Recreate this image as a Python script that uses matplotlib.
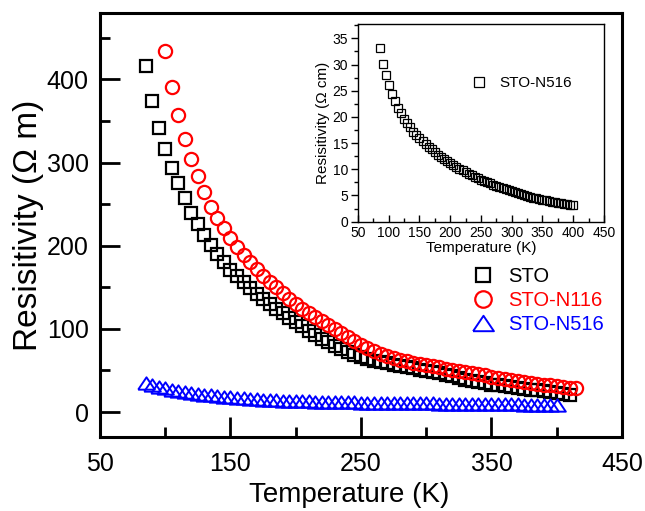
import matplotlib
matplotlib.use('Agg')
import matplotlib.pyplot as plt
from matplotlib.ticker import MultipleLocator, FixedLocator

plt.rcParams['font.family'] = ['Liberation Sans', 'DejaVu Sans']

# main panel data (resistivity in Ohm m)
temp_sto = [85, 90, 95, 100, 105, 110, 115, 120, 125, 130, 135, 140, 145, 150, 155, 160,
            165, 170, 175, 180, 185, 190, 195, 200, 205, 210, 215, 220, 225, 230, 235, 240,
            245, 250, 255, 260, 265, 270, 275, 280, 285, 290, 295, 300, 305, 310, 315, 320,
            325, 330, 335, 340, 345, 350, 355, 360, 365, 370, 375, 380, 385, 390, 395, 400,
            405, 410]
rho_sto = [416, 374, 342, 317, 294, 275, 257, 240, 226, 213, 201, 190, 180, 171, 164, 156,
           149, 142, 136, 130, 124, 119, 113, 108, 103, 98, 93, 88, 84, 80, 76, 72,
           69, 66, 64, 62, 60, 58.5, 57, 55.5, 54, 52.5, 51, 49.5, 48, 46.5, 45, 43,
           41, 39, 37.5, 36, 34.5, 33, 32, 31, 30, 29, 28, 27, 26, 25, 24, 23,
           22, 20.5]

temp_n116 = [100, 105, 110, 115, 120, 125, 130, 135, 140, 145, 150, 155, 160, 165, 170, 175,
             180, 185, 190, 195, 200, 205, 210, 215, 220, 225, 230, 235, 240, 245, 250, 255,
             260, 265, 270, 275, 280, 285, 290, 295, 300, 305, 310, 315, 320, 325, 330, 335,
             340, 345, 350, 355, 360, 365, 370, 375, 380, 385, 390, 395, 400, 405, 410, 415]
rho_n116 = [434, 391, 357, 329, 304, 284, 265, 247, 233, 221, 209, 199, 189, 180, 172, 164,
            157, 150, 143, 136, 130, 124, 119, 114, 110, 105, 100, 95, 90, 85, 81, 77,
            73, 70, 67, 65, 63, 61, 59.5, 58, 56.5, 55, 54, 52, 50.5, 49, 48, 47,
            45.5, 44, 42.5, 41, 40, 39, 37.5, 36.5, 35.5, 34, 33, 32, 31, 30, 29.5, 29]

temp_n516 = [85, 90, 95, 100, 105, 110, 115, 120, 125, 130, 135, 140, 145, 150, 155, 160,
             165, 170, 175, 180, 185, 190, 195, 200, 205, 210, 215, 220, 225, 230, 235, 240,
             245, 250, 255, 260, 265, 270, 275, 280, 285, 290, 295, 300, 305, 310, 315, 320,
             325, 330, 335, 340, 345, 350, 355, 360, 365, 370, 375, 380, 385, 390, 395, 400]
rho_n516 = [35, 32, 30, 28.5, 27, 25.5, 24, 23, 22, 21, 20, 19, 18.3, 17.6, 17, 16.5,
            16, 15.5, 15, 14.6, 14.2, 13.8, 13.5, 13.2, 13, 12.8, 12.6, 12.4, 12.2, 12, 11.8, 11.7,
            11.6, 11.5, 11.4, 11.3, 11.2, 11.1, 11, 10.9, 10.8, 10.7, 10.6, 10.5, 10.4, 10.3, 10.2, 10.1,
            10, 9.9, 9.8, 9.7, 9.6, 9.5, 9.4, 9.3, 9.2, 9.1, 9.0, 8.9, 8.8, 8.6, 8.5, 8.4]

# inset data (resistivity in Ohm cm)
rho_n516_cm = [33.2, 30.2, 28.0, 26.1, 24.3, 23.0, 21.7, 20.7, 19.7, 18.8, 18.0, 17.2, 16.6, 16.0, 15.4, 14.8,
               14.3, 13.8, 13.3, 12.8, 12.4, 12.0, 11.6, 11.2, 10.8, 10.5, 10.1, 9.8, 9.5, 9.2, 8.9, 8.6,
               8.3, 8.0, 7.8, 7.5, 7.3, 7.0, 6.8, 6.6, 6.4, 6.2, 6.0, 5.8, 5.6, 5.4, 5.3, 5.1,
               4.9, 4.8, 4.6, 4.5, 4.35, 4.2, 4.05, 3.95, 3.85, 3.75, 3.65, 3.55, 3.45, 3.35, 3.25, 3.15]

xticks_main = [50, 150, 250, 350, 450]
xminor_main = [100, 200, 300, 400]
yticks_main = [0, 100, 200, 300, 400]

tri = [(-1, -0.74), (1, -0.74), (0, 0.74), (-1, -0.74)]

fig = plt.figure(figsize=(6.45, 5.11), dpi=100)

ax1 = fig.add_axes([0.155, 0.1448, 0.8093, 0.8298])

ax1.plot(temp_sto, rho_sto, ls='none', marker='s', ms=8, mew=1.6, mfc='none', color='black', label='STO')
ax1.plot(temp_n116, rho_n116, ls='none', marker='o', ms=9.5, mew=1.6, mfc='none', color='red', label='STO-N116')
ax1.plot(temp_n516, rho_n516, ls='none', marker=tri, ms=12, mew=1.4, mfc='none', color='blue', label='STO-N516')

ax1.set_xlim(50, 450)
ax1.set_ylim(-30, 480)
ax1.xaxis.set_major_locator(FixedLocator(xticks_main))
ax1.xaxis.set_minor_locator(FixedLocator(xminor_main))
ax1.yaxis.set_major_locator(FixedLocator(yticks_main))
ax1.yaxis.set_minor_locator(MultipleLocator(50))
ax1.tick_params(which='major', direction='in', length=14.5, width=2, labelsize=18, top=False, right=False)
ax1.tick_params(which='minor', direction='in', length=7, width=2, top=False, right=False)
ax1.tick_params(axis='y', pad=8)
ax1.tick_params(axis='x', pad=11)
for s in ax1.spines.values():
    s.set_linewidth(2.2)

ax1.set_xlabel('Temperature (K)', fontsize=20)
ax1.xaxis.set_label_coords(0.477, -0.107)
ax1.set_ylabel('Resisitivity (\u03a9 m)', fontsize=24, labelpad=2)

leg = ax1.legend(loc='upper left', bbox_to_anchor=(0.7333, 0.4775), bbox_transform=fig.transFigure,
                 frameon=False, fontsize=14.5, handlelength=1, handletextpad=0.75, labelspacing=0.25,
                 borderpad=0, borderaxespad=0, markerscale=1.25, labelcolor='linecolor')

# inset
ax2 = fig.add_axes([0.555, 0.5662, 0.3814, 0.3863])
ax2.plot(temp_n516, rho_n516_cm, ls='none', marker='s', ms=5.5, mew=0.9, mfc='none', color='black', label='STO-N516')
ax2.set_xlim(50, 450)
ax2.set_ylim(0, 37.7)
ax2.xaxis.set_major_locator(MultipleLocator(50))
ax2.xaxis.set_minor_locator(MultipleLocator(25))
ax2.yaxis.set_major_locator(MultipleLocator(5))
ax2.yaxis.set_minor_locator(MultipleLocator(2.5))
ax2.tick_params(axis='x', which='major', direction='in', length=5, width=1, labelsize=10, pad=3, top=False)
ax2.tick_params(axis='x', which='minor', direction='in', length=3, width=1, top=False)
ax2.tick_params(axis='y', which='major', direction='out', length=5, width=1, labelsize=10, pad=2, right=False)
ax2.tick_params(axis='y', which='minor', direction='out', length=3, width=1, right=False)
for s in ax2.spines.values():
    s.set_linewidth(1)
ax2.set_xlabel('Temperature (K)', fontsize=11, labelpad=1)
ax2.set_ylabel('Resisitivity (\u03a9 cm)', fontsize=11, labelpad=2)
ax2.legend(loc='upper left', bbox_to_anchor=(0.7308, 0.8505), bbox_transform=fig.transFigure,
           frameon=False, fontsize=11, handlelength=1, handletextpad=0.8,
           borderpad=0, borderaxespad=0, markerscale=1.2)

fig.savefig('out.png', dpi=100)
